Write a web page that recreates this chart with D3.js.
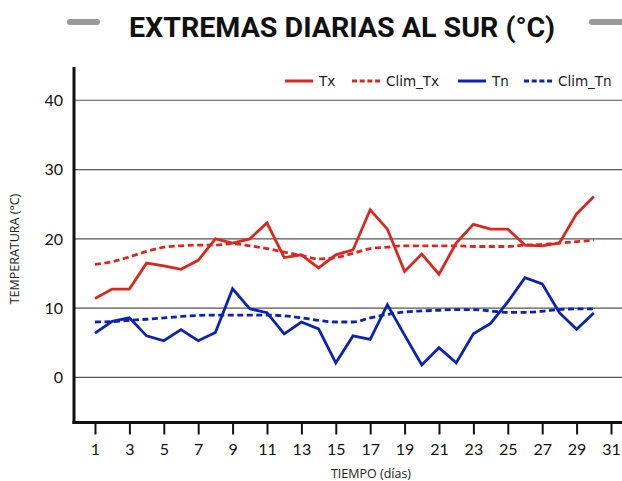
<!DOCTYPE html>
<html><head><meta charset="utf-8">
<script src="https://cdn.jsdelivr.net/npm/d3@7"></script>
<style>
html,body{margin:0;padding:0;background:#fff;}
svg{display:block;}
text{font-family:Lato,"Open Sans",sans-serif;}
</style></head>
<body>
<svg id="chart" width="622" height="481"></svg>
<script>
const days = d3.range(1, 31);
const tx = [11.4,12.75,12.75,16.5,16.1,15.6,16.9,20.0,19.4,20.0,22.3,17.3,17.7,15.8,17.7,18.4,24.2,21.4,15.3,17.8,14.9,19.4,22.1,21.4,21.4,19.1,19.0,19.4,23.6,26.1];
const climTx = [16.3,16.7,17.4,18.2,18.8,19.0,19.1,19.1,19.3,19.0,18.6,18.1,17.6,17.1,17.3,17.9,18.6,18.8,19.0,19.0,19.0,19.0,18.9,18.9,18.9,19.1,19.2,19.4,19.6,19.8];
const tn = [6.4,8.1,8.6,6.0,5.3,6.9,5.3,6.5,12.8,9.9,9.35,6.3,8.0,7.0,2.1,6.0,5.5,10.5,6.1,1.8,4.3,2.1,6.3,7.8,10.9,14.4,13.5,9.35,6.95,9.3];
const climTn = [8.0,8.05,8.25,8.4,8.6,8.8,8.95,9.0,9.0,9.0,9.0,8.9,8.6,8.25,8.0,8.0,8.6,9.1,9.45,9.6,9.7,9.8,9.8,9.6,9.4,9.4,9.55,9.8,9.9,9.9];
const yTicks = [0,10,20,30,40];
const xTicks = d3.range(1, 32, 2);
const seriesNames = ["Tx","Clim_Tx","Tn","Clim_Tn"];
const title = "EXTREMAS DIARIAS AL SUR (°C)";
const xTitle = "TIEMPO (días)";
const yTitle = "TEMPERATURA (°C)";

const RED = "#d8281f", BLUE = "#0b22b5";
const series = [
  {name: seriesNames[0], values: tx, color: RED, dash: null, curve: d3.curveLinear},
  {name: seriesNames[1], values: climTx, color: RED, dash: "6,3.5", curve: d3.curveMonotoneX},
  {name: seriesNames[2], values: tn, color: BLUE, dash: null, curve: d3.curveLinear},
  {name: seriesNames[3], values: climTn, color: BLUE, dash: "6,3.5", curve: d3.curveMonotoneX}
];

const svg = d3.select("#chart");
const x = d3.scaleLinear().domain([-0.22, 31.64]).range([74, 622]);
const y = d3.scaleLinear().domain([-6.5, 44.8]).range([422.5, 67]);

// title
svg.append("text").attr("x", 342).attr("y", 37).attr("text-anchor", "middle")
  .attr("font-size", 28).attr("font-weight", 700).attr("fill", "#111")
  .attr("textLength", 426).attr("lengthAdjust", "spacingAndGlyphs")
  .style("font-family", "Roboto, sans-serif").text(title);
svg.append("line").attr("x1", 70).attr("x2", 97).attr("y1", 22).attr("y2", 22)
  .attr("stroke", "#9a9a9a").attr("stroke-width", 6).attr("stroke-linecap", "round");
svg.append("line").attr("x1", 592).attr("x2", 626).attr("y1", 22).attr("y2", 22)
  .attr("stroke", "#9a9a9a").attr("stroke-width", 6).attr("stroke-linecap", "round");

// gridlines
svg.append("g").selectAll("line").data(yTicks).join("line")
  .attr("x1", x.range()[0]).attr("x2", x.range()[1])
  .attr("y1", d => y(d)).attr("y2", d => y(d))
  .attr("stroke", "#555").attr("stroke-width", 1.2);

// y tick labels
svg.append("g").selectAll("text").data(yTicks).join("text")
  .attr("x", 63).attr("y", d => y(d)).attr("dy", "0.36em")
  .attr("text-anchor", "end").attr("font-size", 16).attr("fill", "#111")
  .text(d => d);

// x axis
const xAxis = d3.axisBottom(x).tickValues(xTicks).tickSize(12).tickPadding(9).tickFormat(d3.format("d"));
const gx = svg.append("g").attr("transform", `translate(0,${y.range()[0]})`).call(xAxis);
gx.select(".domain").remove();
gx.selectAll(".tick line").attr("stroke", "#111").attr("stroke-width", 2);
gx.selectAll(".tick text").attr("font-size", 16).attr("fill", "#111").style("font-family", "Lato, sans-serif");

// series
const line = (curve) => d3.line().x((d, i) => x(days[i])).y(d => y(d)).curve(curve);
svg.append("g").selectAll("path").data(series).join("path")
  .attr("d", s => line(s.curve)(s.values))
  .attr("fill", "none").attr("stroke", s => s.color).attr("stroke-width", 2.8)
  .attr("stroke-dasharray", s => s.dash).attr("stroke-linejoin", "miter");

// axis lines
svg.append("line").attr("x1", x.range()[0]).attr("x2", x.range()[0])
  .attr("y1", y.range()[1]).attr("y2", y.range()[0] + 1.5)
  .attr("stroke", "#111").attr("stroke-width", 3);
svg.append("line").attr("x1", x.range()[0] - 1.5).attr("x2", x.range()[1])
  .attr("y1", y.range()[0]).attr("y2", y.range()[0])
  .attr("stroke", "#111").attr("stroke-width", 3);

// axis titles
svg.append("text").attr("transform", "translate(19,249) rotate(-90)")
  .attr("text-anchor", "middle").attr("font-size", 12.5).attr("fill", "#222")
  .style("font-family", "'Open Sans', sans-serif").text(yTitle);
svg.append("text").attr("x", 371).attr("y", 478).attr("text-anchor", "middle")
  .attr("font-size", 12.5).attr("fill", "#222")
  .style("font-family", "'Open Sans', sans-serif").text(xTitle);

// legend
const legendX = [285, 352, 458, 524];
const lg = svg.append("g").selectAll("g").data(series).join("g")
  .attr("transform", (d, i) => `translate(${legendX[i]},81)`);
lg.append("line").attr("x1", 0).attr("x2", 28).attr("y1", 0).attr("y2", 0)
  .attr("stroke", d => d.color).attr("stroke-width", 3)
  .attr("stroke-dasharray", d => d.dash ? "5,2.7" : null);
lg.append("text").attr("x", 34).attr("y", 0).attr("dy", "0.36em")
  .attr("font-size", 13.5).attr("fill", "#222")
  .style("font-family", "'DejaVu Sans', sans-serif").text(d => d.name);
</script>
</body></html>
